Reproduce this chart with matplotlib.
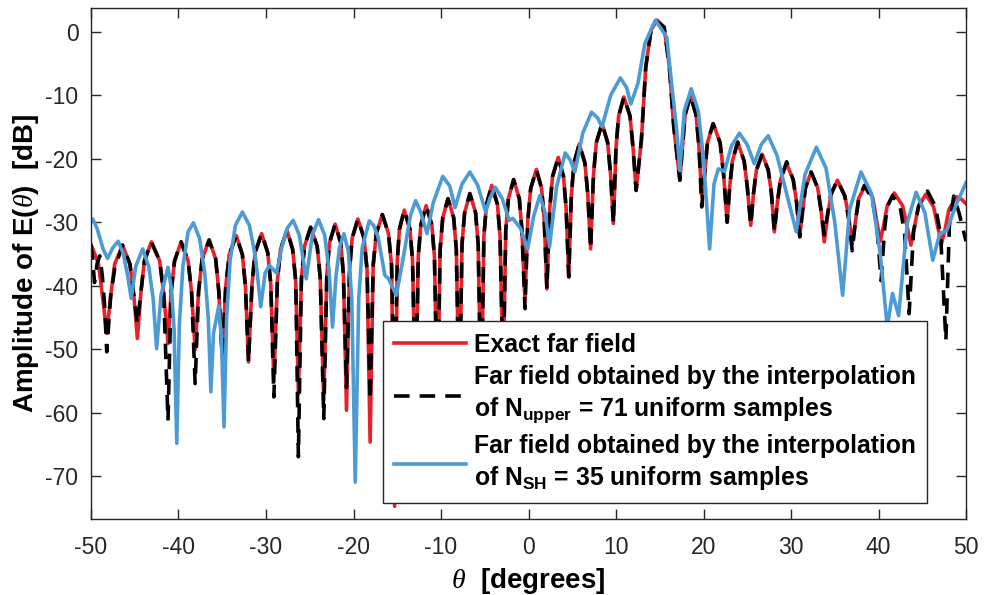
import matplotlib
matplotlib.use("Agg")
import matplotlib.pyplot as plt

plt.rcParams['font.family'] = ['Liberation Sans', 'DejaVu Sans']
plt.rcParams['mathtext.fontset'] = 'custom'
plt.rcParams['mathtext.rm'] = 'Liberation Sans'
plt.rcParams['mathtext.bf'] = 'Liberation Sans:bold'
plt.rcParams['mathtext.it'] = 'Liberation Serif:italic'
plt.rcParams['axes.unicode_minus'] = False

# exact far field (theta in degrees, amplitude in dB)
red_theta = [-50.0, -49.15, -48.7, -48.2, -47.75, -47.3, -46.4, -45.55, -45.1, -44.7,
             -44.3, -43.9, -43.1, -42.15, -41.7, -41.2, -40.85, -40.45, -39.7, -38.9,
             -38.5, -38.1, -37.7, -37.3, -36.5, -35.75, -35.4, -35.0, -34.6, -34.2,
             -33.4, -32.7, -32.35, -32.0, -31.6, -31.25, -30.5, -29.8, -29.45, -29.1,
             -28.7, -28.35, -27.6, -26.95, -26.6, -26.3, -25.95, -25.6, -24.9, -24.15,
             -23.8, -23.4, -23.05, -22.75, -22.1, -21.45, -21.15, -20.8, -20.45, -20.15,
             -19.5, -18.8, -18.45, -18.1, -17.75, -17.4, -16.7, -16.0, -15.65, -15.3,
             -15.0, -14.75, -14.2, -13.55, -13.25, -12.9, -12.6, -12.3, -11.7, -11.05,
             -10.75, -10.4, -10.1, -9.8, -9.2, -8.55, -8.25, -7.9, -7.6, -7.3,
             -6.7, -6.05, -5.75, -5.4, -5.1, -4.8, -4.2, -3.55, -3.25, -2.9,
             -2.6, -2.3, -1.7, -1.05, -0.75, -0.4, -0.08, 0.25, 0.9, 1.5,
             1.8, 2.1, 2.43, 2.75, 3.4, 4.0, 4.3, 4.6, 4.9, 5.2,
             5.8, 6.45, 6.78, 7.1, 7.43, 7.75, 8.4, 9.05, 9.38, 9.7,
             10.0, 10.3, 10.9, 11.6, 11.95, 12.3, 12.9, 13.4, 14.0, 14.7,
             15.5, 16.1, 16.6, 17.3, 17.6, 17.9, 18.5, 19.15, 19.48, 19.8,
             20.13, 20.45, 21.1, 21.9, 22.3, 22.7, 23.0, 23.3, 23.9, 24.65,
             25.0, 25.4, 25.73, 26.05, 26.7, 27.4, 27.75, 28.1, 28.45, 28.8,
             29.5, 30.25, 30.63, 31.0, 31.33, 31.65, 32.3, 33.05, 33.43, 33.8,
             34.18, 34.55, 35.3, 36.15, 36.58, 37.0, 37.38, 37.75, 38.5, 39.35,
             39.78, 40.2, 40.6, 41.0, 41.8, 42.75, 43.23, 43.7, 44.13, 44.55,
             45.4, 46.3, 46.75, 47.2, 47.63, 48.05, 48.9, 49.5, 50.0]
red_db = [-33.5, -36.5, -41.5, -47.5, -41.6, -36.6, -33.6, -36.6, -41.6, -48.3,
          -41.1, -36.1, -33.1, -36.1, -41.1, -49.1, -41.1, -36.1, -33.1, -36.1,
          -41.1, -50.0, -40.8, -35.8, -32.8, -35.8, -40.8, -51.2, -40.1, -35.1,
          -32.1, -35.1, -40.1, -52.0, -39.8, -34.8, -31.8, -34.8, -39.8, -55.0,
          -39.3, -34.3, -31.3, -34.3, -39.3, -57.0, -38.8, -33.8, -30.8, -33.8,
          -38.8, -58.0, -38.3, -33.3, -30.3, -33.3, -38.3, -59.6, -37.5, -32.5,
          -29.5, -32.5, -37.5, -64.6, -36.8, -31.8, -28.8, -31.8, -36.8, -74.7,
          -36.1, -31.1, -28.1, -31.1, -36.1, -60.0, -35.4, -30.4, -27.4, -30.4,
          -35.4, -60.0, -34.3, -29.3, -26.3, -29.3, -34.3, -60.0, -33.5, -28.5,
          -25.5, -28.5, -33.5, -60.0, -32.2, -27.2, -24.2, -27.2, -32.2, -55.0,
          -31.3, -26.3, -23.3, -26.3, -31.3, -42.5, -29.7, -24.7, -21.7, -24.7,
          -29.7, -40.5, -27.8, -22.8, -19.8, -22.8, -27.8, -38.6, -25.7, -20.7,
          -17.7, -20.7, -25.7, -34.2, -22.5, -17.5, -14.5, -17.5, -22.5, -30.2,
          -18.3, -13.3, -10.3, -13.3, -18.3, -25.0, -17.1, -5.6, 0.2, 1.8,
          0.7, -5.6, -15.0, -23.4, -18.1, -13.1, -10.1, -13.1, -18.1, -26.0,
          -22.5, -17.5, -14.5, -17.5, -22.5, -30.0, -24.4, -20.4, -17.4, -20.4,
          -24.4, -30.5, -25.3, -21.8, -19.3, -21.8, -25.3, -31.5, -26.8, -23.3,
          -20.8, -23.3, -26.8, -32.3, -28.1, -24.6, -22.1, -24.6, -28.1, -33.1,
          -29.0, -25.8, -23.4, -25.8, -29.0, -33.4, -29.7, -26.2, -24.2, -26.2,
          -29.7, -33.0, -30.4, -27.4, -25.4, -27.4, -30.4, -33.6, -30.6, -27.6,
          -25.6, -27.6, -30.6, -33.4, -31.0, -28.0, -26.0, -26.4, -27.1]

# interpolation of N_upper = 71 samples
black_theta = [-50.0, -49.8, -49.6, -49.3, -49.0, -48.7, -48.45, -48.2, -47.75, -47.3,
               -46.4, -45.55, -45.1, -44.7, -44.3, -43.9, -43.1, -42.15, -41.7, -41.2,
               -40.85, -40.45, -39.7, -38.9, -38.5, -38.1, -37.7, -37.3, -36.5, -35.75,
               -35.4, -35.0, -34.6, -34.2, -33.4, -32.7, -32.35, -32.0, -31.6, -31.25,
               -30.5, -29.8, -29.45, -29.1, -28.7, -28.35, -27.6, -26.95, -26.6, -26.3,
               -25.95, -25.6, -24.9, -24.15, -23.8, -23.4, -23.05, -22.75, -22.1, -21.45,
               -21.15, -20.8, -20.45, -20.15, -19.5, -18.8, -18.45, -18.1, -17.75, -17.4,
               -16.7, -16.0, -15.65, -15.3, -15.0, -14.75, -14.2, -13.55, -13.25, -12.9,
               -12.6, -12.3, -11.7, -11.05, -10.75, -10.4, -10.1, -9.8, -9.2, -8.55,
               -8.25, -7.9, -7.6, -7.3, -6.7, -6.05, -5.75, -5.4, -5.1, -4.8,
               -4.2, -3.55, -3.25, -2.9, -2.6, -2.3, -1.7, -1.05, -0.75, -0.4,
               -0.08, 0.25, 0.9, 1.5, 1.8, 2.1, 2.43, 2.75, 3.4, 4.0,
               4.3, 4.6, 4.9, 5.2, 5.8, 6.45, 6.78, 7.1, 7.43, 7.75,
               8.4, 9.05, 9.38, 9.7, 10.0, 10.3, 10.9, 11.6, 11.95, 12.3,
               12.9, 13.4, 14.0, 14.6, 15.5, 16.1, 16.6, 17.3, 17.6, 17.9,
               18.5, 19.15, 19.48, 19.8, 20.13, 20.45, 21.1, 21.9, 22.3, 22.7,
               23.0, 23.3, 23.9, 24.65, 25.0, 25.4, 25.73, 26.05, 26.7, 27.4,
               27.75, 28.1, 28.45, 28.8, 29.5, 30.25, 30.63, 31.0, 31.33, 31.65,
               32.3, 33.05, 33.43, 33.8, 34.18, 34.55, 35.3, 36.15, 36.58, 37.0,
               37.38, 37.75, 38.4, 39.3, 39.8, 40.3, 40.7, 41.0, 41.6, 42.5,
               43.0, 43.5, 44.0, 44.6, 45.6, 46.5, 47.1, 47.7, 48.1, 48.6,
               49.2, 50.0]
black_db = [-33.5, -36.0, -39.5, -36.5, -35.3, -38.5, -43.0, -50.4, -41.6, -37.4,
            -33.6, -36.6, -41.6, -46.0, -41.1, -36.1, -33.1, -36.1, -41.1, -61.2,
            -41.1, -36.1, -33.1, -36.1, -41.1, -55.4, -40.8, -35.8, -32.8, -35.8,
            -40.8, -51.2, -40.1, -35.1, -32.1, -35.1, -40.1, -52.0, -39.8, -34.8,
            -31.8, -34.8, -39.8, -57.5, -39.3, -34.3, -31.3, -34.3, -39.3, -66.9,
            -38.8, -33.8, -30.8, -33.8, -38.8, -60.9, -38.3, -33.3, -30.3, -33.3,
            -38.3, -56.0, -37.5, -32.5, -29.5, -32.5, -37.5, -58.0, -36.8, -31.8,
            -28.8, -31.8, -36.8, -60.0, -36.1, -31.1, -28.1, -31.1, -36.1, -60.0,
            -35.4, -30.4, -27.4, -30.4, -35.4, -60.0, -34.3, -29.3, -26.3, -29.3,
            -34.3, -60.0, -33.5, -28.5, -25.5, -28.5, -33.5, -60.0, -32.2, -27.2,
            -24.2, -27.2, -32.2, -55.0, -31.3, -26.3, -23.3, -26.3, -31.3, -43.6,
            -29.7, -24.7, -21.7, -24.7, -29.7, -40.5, -27.8, -22.8, -19.8, -22.8,
            -27.8, -38.6, -25.7, -20.7, -17.7, -20.7, -25.7, -34.2, -22.5, -17.5,
            -14.5, -17.5, -22.5, -30.2, -18.3, -13.3, -10.3, -13.3, -18.3, -25.0,
            -17.1, -5.6, 0.2, 1.6, 0.7, -5.6, -15.0, -23.4, -18.1, -13.1,
            -10.1, -13.1, -18.1, -27.6, -22.5, -17.5, -14.5, -17.5, -22.5, -30.0,
            -24.4, -20.4, -17.4, -20.4, -24.4, -30.5, -25.3, -21.8, -19.3, -21.8,
            -25.3, -31.5, -26.8, -23.3, -20.5, -23.3, -26.8, -32.3, -28.1, -24.6,
            -22.1, -24.6, -28.1, -32.0, -28.8, -25.6, -23.4, -25.9, -29.5, -34.5,
            -29.7, -26.2, -24.2, -26.5, -30.5, -39.2, -31.0, -27.6, -25.8, -27.8,
            -32.0, -44.4, -31.5, -27.4, -25.1, -27.5, -32.0, -48.6, -30.5, -25.9,
            -28.5, -33.0]

# interpolation of N_SH = 35 samples
blue_theta = [-50.0, -49.8, -49.3, -48.6, -48.1, -47.5, -46.9, -46.3, -45.8, -45.4,
              -44.9, -44.1, -43.4, -42.9, -42.5, -42.0, -41.2, -40.8, -40.5, -40.2,
              -39.9, -39.5, -38.9, -38.3, -37.6, -37.0, -36.6, -36.3, -36.0, -35.4,
              -35.1, -34.8, -34.5, -34.1, -33.5, -32.7, -31.9, -31.2, -30.6, -30.1,
              -29.6, -28.8, -28.2, -27.6, -26.9, -26.2, -25.4, -24.7, -24.0, -23.3,
              -22.8, -22.4, -22.0, -21.6, -21.1, -20.6, -20.2, -19.8, -19.4, -19.0,
              -18.2, -17.7, -17.2, -16.4, -16.0, -15.1, -14.3, -13.5, -12.9, -12.3,
              -11.6, -10.9, -9.8, -9.0, -8.4, -7.6, -6.7, -5.8, -4.9, -4.4,
              -3.8, -3.0, -2.2, -1.8, -0.9, -0.1, 0.6, 1.3, 1.9, 2.4,
              3.2, 4.2, 4.8, 5.3, 6.2, 7.2, 7.9, 8.4, 9.4, 10.5,
              11.2, 11.7, 12.5, 13.3, 14.5, 15.8, 16.4, 16.9, 17.3, 17.8,
              18.6, 19.4, 20.0, 20.7, 21.2, 21.7, 22.4, 23.2, 24.1, 25.0,
              25.8, 26.6, 27.4, 28.4, 29.5, 30.6, 31.6, 32.9, 34.0, 35.0,
              35.9, 36.7, 38.0, 39.2, 40.2, 41.0, 41.6, 42.3, 43.3, 44.3,
              45.3, 46.2, 47.0, 47.8, 48.8, 50.0]
blue_db = [-29.8, -29.5, -31.0, -34.3, -35.7, -34.0, -33.0, -35.0, -38.5, -42.0,
           -37.0, -34.2, -37.0, -42.0, -49.9, -41.5, -37.1, -40.5, -47.0, -64.8,
           -46.0, -37.0, -31.5, -30.1, -32.5, -38.0, -45.0, -56.7, -47.5, -43.2,
           -48.0, -62.2, -45.0, -36.0, -30.5, -28.4, -30.5, -35.5, -43.3, -38.0,
           -36.8, -38.0, -34.0, -31.0, -29.7, -32.0, -38.9, -32.0, -29.6, -32.0,
           -37.5, -46.5, -38.5, -34.0, -31.8, -34.5, -42.0, -70.9, -42.0, -34.0,
           -29.8, -30.5, -32.3, -38.4, -38.9, -41.5, -35.5, -29.0, -26.6, -28.5,
           -31.8, -27.0, -22.8, -24.3, -27.7, -24.0, -22.1, -24.2, -28.4, -26.2,
           -24.5, -26.3, -29.7, -29.4, -31.0, -34.2, -29.0, -25.8, -28.5, -33.9,
           -24.5, -19.1, -20.3, -22.1, -16.0, -12.7, -13.6, -15.0, -10.0, -7.3,
           -8.8, -11.4, -8.2, -1.9, 1.8, -0.9, -8.8, -15.0, -21.9, -12.5,
           -9.0, -12.5, -20.0, -34.2, -24.0, -21.6, -22.0, -18.0, -16.0, -17.8,
           -20.8, -17.8, -16.4, -19.5, -25.5, -31.5, -22.5, -18.2, -21.5, -30.0,
           -41.5, -28.0, -22.1, -25.5, -35.0, -46.5, -41.2, -44.7, -30.0, -25.3,
           -28.5, -36.0, -31.8, -31.3, -27.5, -23.8]

labels = ['Exact far field',
          'Far field obtained by the interpolation\nof $\\mathbf{N_{upper}}$ = 71 uniform samples',
          'Far field obtained by the interpolation\nof $\\mathbf{N_{SH}}$ = 35 uniform samples']

fig = plt.figure(figsize=(9.86, 5.95), dpi=100)
ax = fig.add_axes([91/986, 1 - 519/595, 875/986, 511/595])

ax.plot(red_theta, red_db, color='#E8202A', lw=2.6, label=labels[0])
ax.plot(black_theta, black_db, color='black', lw=2.6, dashes=(4.3, 2.8), label=labels[1])
ax.plot(blue_theta, blue_db, color='#4C9BD5', lw=2.6, label=labels[2])

ax.set_xlim(-50, 50)
ax.set_ylim(-76.7, 3.7)
ax.set_xticks(range(-50, 51, 10))
ax.set_yticks(range(-70, 1, 10))
ax.tick_params(direction='in', length=7, width=1, top=True, right=True,
               labelsize=16.5, colors='#262626')
ax.tick_params(axis='x', pad=12)
ax.tick_params(axis='y', pad=9)
for s in ax.spines.values():
    s.set_color('#262626')
    s.set_linewidth(1.0)

ax.set_xlabel(r'$\theta$  [degrees]', fontsize=20, fontweight='bold', labelpad=5)
ax.set_ylabel(r'Amplitude of E($\theta$)  [dB]', fontsize=20, fontweight='bold', labelpad=3)

leg = ax.legend(loc='lower left', bbox_to_anchor=(0.334, 0.031), borderaxespad=0,
                prop={'weight': 'bold', 'size': 17.8}, fancybox=False, framealpha=1,
                edgecolor='#262626', handlelength=2.9, handletextpad=0.33,
                borderpad=0.45, labelspacing=0.35)
for t in leg.get_texts():
    t.set_linespacing(1.3)
leg.get_frame().set_linewidth(1.0)

fig.savefig('out.png', dpi=100)
